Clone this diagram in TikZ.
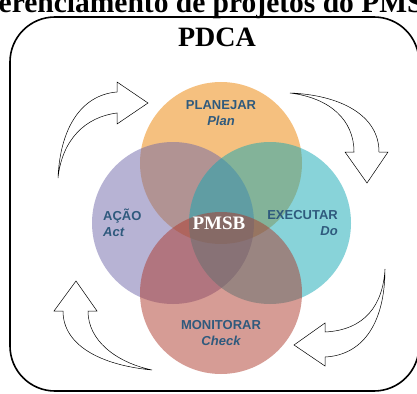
\documentclass[tikz,border=0pt]{standalone}
\usepackage{fontspec}
\setmainfont{Liberation Serif}
\setsansfont{Liberation Sans}
\usepackage{tikz}
\usetikzlibrary{positioning}
\definecolor{plancol}{RGB}{236,130,0}
\definecolor{actcol}{RGB}{111,103,169}
\definecolor{docol}{RGB}{17,167,179}
\definecolor{checkcol}{RGB}{173,57,43}
\definecolor{labcol}{HTML}{2F5A7D}
\tikzset{
  petal/.style={
    shape = circle,
    inner sep = 0pt,
    minimum size = 162pt,
    fill opacity = 0.5,
    draw = none
  },
  stage/.style={
    font = \sffamily\bfseries\fontsize{13}{16}\selectfont,
    text = labcol,
    inner sep = 0pt
  },
  curvearrow/.style={
    draw = black,
    fill = white,
    line width = 0.5pt,
    line join = miter
  },
  frame/.style={
    draw,
    line width = 1.6pt,
    rounded corners = 45pt
  }
}
\begin{document}
\begin{tikzpicture}[x=1pt,y=-1pt]
        \useasboundingbox (0,0) rectangle (417,393);

        \node[font=\bfseries\fontsize{29.5}{30}\selectfont, anchor=base] (title) at (209.5,13) {Gerenciamento de projetos do PMSB};
        \draw[frame] (10,17) rectangle (419,391);
        \node[font=\bfseries\fontsize{28}{30}\selectfont, anchor=base] (pdca) at (217,47) {PDCA};

        % the four circles
        \node[petal, fill=plancol] (plan) at (221,163) {};
        \node[petal, fill=actcol] (act) at (173,223) {};
        \node[petal, fill=docol] (do) at (270,223) {};
        \node[petal, fill=checkcol] (check) at (221,293) {};

        \node[stage, align=center] (planlab) at (221,113) {PLANEJAR\\\itshape Plan};
        \node[stage, align=left, anchor=west] (actlab) at (103,223) {AÇÃO\\\itshape Act};
        \node[stage, align=right, anchor=east] (dolab) at (338,223) {EXECUTAR\\\itshape Do};
        \node[stage, align=center] (checklab) at (221,333) {MONITORAR\\\itshape Check};
        \node[font=\bfseries\fontsize{19}{20}\selectfont, text=white] (pmsb) at (219,223) {PMSB};

        % curved arrows
        \draw[curvearrow] (58,178) .. controls (60,130) and (80,95) .. (117,92)
            -- (117,82) -- (148,103) -- (117,124) -- (117,113)
            .. controls (85,117) and (62,140) .. cycle;
        \draw[curvearrow] (290,93) .. controls (340,95) and (379,115) .. (379,152)
            -- (388,152) -- (367,183) -- (345,152) -- (354,152)
            .. controls (354,120) and (330,98) .. cycle;
        \draw[curvearrow] (385,269) .. controls (385,320) and (365,355) .. (325,357)
            -- (325,366) -- (294,345) -- (325,323) -- (325,332)
            .. controls (365,330) and (383,305) .. cycle;
        \draw[curvearrow] (152,370) .. controls (100,365) and (63,345) .. (63,311)
            -- (54,311) -- (76,281) -- (97,311) -- (88,311)
            .. controls (88,340) and (115,362) .. cycle;
\end{tikzpicture}
\end{document}
